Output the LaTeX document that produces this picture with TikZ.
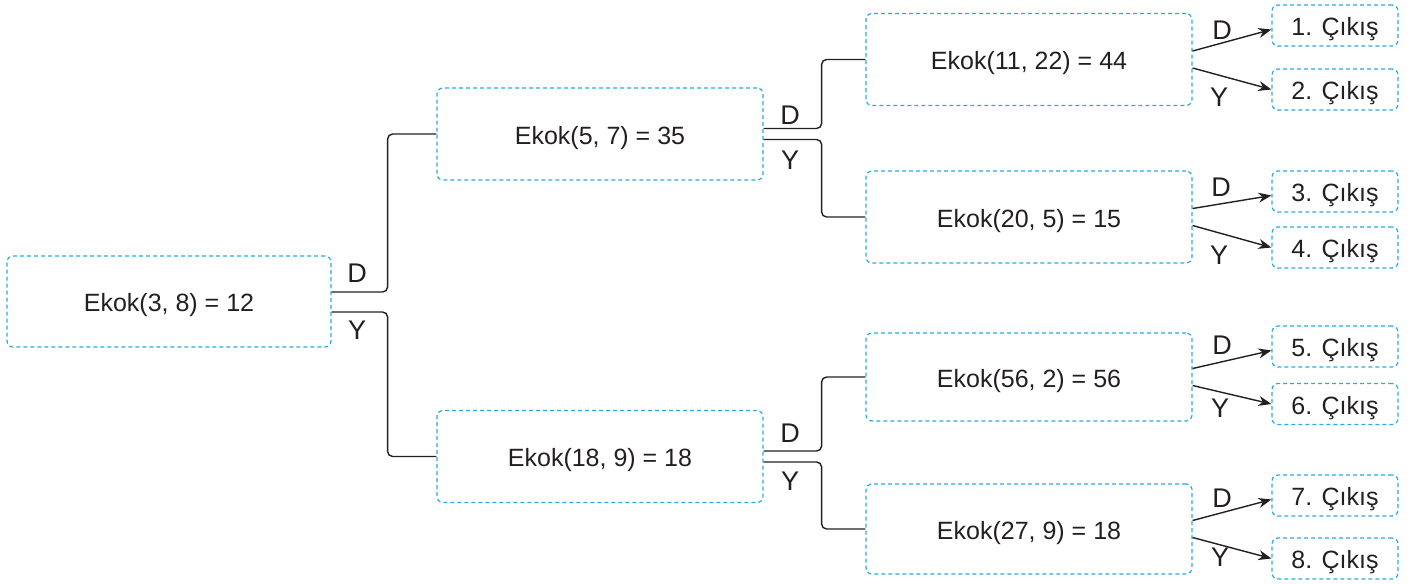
\documentclass[tikz,border=0pt]{standalone}
\usepackage{fontspec}
\setmainfont{Liberation Sans}
\usetikzlibrary{arrows.meta}
\definecolor{boxc}{HTML}{29ABE2}
\definecolor{ink}{HTML}{231F20}
\begin{document}
\begin{tikzpicture}[x=0.5pt,y=-0.5pt,
  box/.style={draw=boxc, dash pattern=on 2pt off 1.5pt, line width=0.6pt, rounded corners=3pt,
    minimum width=163pt, minimum height=46pt, inner sep=0pt, text=ink,
    text height=11.5pt, text depth=1.5pt,
    font=\fontsize{12.5}{15}\selectfont},
  outbox/.style={box, minimum width=63pt, minimum height=20.5pt},
  conn/.style={draw=ink, line width=0.7pt, rounded corners=2.5pt},
  arr/.style={draw=ink, line width=0.7pt, -{Stealth[length=6.5pt,width=5pt]}},
  lbl/.style={text=ink, font=\fontsize{13.5}{16}\selectfont, inner sep=0pt}]
\useasboundingbox (0,0) rectangle (1411,583);
% boxes
\node[box, minimum width=162pt, minimum height=45.5pt] (r) at (169,301.5) {Ekok(3, 8) = 12};
\node[box] (a) at (600,134) {Ekok(5, 7) = 35};
\node[box] (b) at (600,456.5) {Ekok(18, 9) = 18};
\node[box] (c1) at (1029,59.5) {Ekok(11, 22) = 44};
\node[box] (c2) at (1029,217) {Ekok(20, 5) = 15};
\node[box, minimum height=44pt] (c3) at (1029,377) {Ekok(56, 2) = 56};
\node[box, minimum height=45pt] (c4) at (1029,529) {Ekok(27, 9) = 18};
% outputs
\node[outbox] (o1) at (1335,25.5) {1. Çıkış};
\node[outbox] (o2) at (1335,89.5) {2. Çıkış};
\node[outbox] (o3) at (1335,191.5) {3. Çıkış};
\node[outbox] (o4) at (1335,247.5) {4. Çıkış};
\node[outbox] (o5) at (1335,346.5) {5. Çıkış};
\node[outbox] (o6) at (1335,404) {6. Çıkış};
\node[outbox] (o7) at (1335,495.5) {7. Çıkış};
\node[outbox] (o8) at (1335,558.5) {8. Çıkış};
% root connectors
\draw[conn] ([yshift=4.75pt]r.east) -- ++(28pt,0) |- (a.west);
\draw[conn] ([yshift=-5.25pt]r.east) -- ++(28pt,0) |- (b.west);
% level 2 connectors
\draw[conn] ([yshift=2.75pt]a.east) -- ++(29pt,0) |- (c1.west);
\draw[conn] ([yshift=-2.75pt]a.east) -- ++(29pt,0) |- (c2.west);
\draw[conn] ([yshift=2.75pt]b.east) -- ++(29pt,0) |- (c3.west);
\draw[conn] ([yshift=-2.75pt]b.east) -- ++(29pt,0) |- (c4.west);
% arrows
\draw[arr] ([yshift=4.25pt]c1.east) -- ([yshift=-2pt]o1.west);
\draw[arr] ([yshift=-4.25pt]c1.east) -- (o2.west);
\draw[arr] ([yshift=4.25pt]c2.east) -- ([yshift=-2pt]o3.west);
\draw[arr] ([yshift=-4.25pt]c2.east) -- (o4.west);
\draw[arr] ([yshift=4.25pt]c3.east) -- ([yshift=-2pt]o5.west);
\draw[arr] ([yshift=-4.25pt]c3.east) -- (o6.west);
\draw[arr] ([yshift=4.25pt]c4.east) -- ([yshift=-2pt]o7.west);
\draw[arr] ([yshift=-4.25pt]c4.east) -- (o8.west);
% labels
\node[lbl] (lrd) at (357,273) {D};
\node[lbl] (lry) at (357,330) {Y};
\node[lbl] (lad) at (790,115) {D};
\node[lbl] (lay) at (790,160) {Y};
\node[lbl] (lbd) at (790,433) {D};
\node[lbl] (lby) at (790,481) {Y};
\node[lbl] (l1d) at (1222,30) {D};
\node[lbl] (l1y) at (1219,97) {Y};
\node[lbl] (l2d) at (1221,187) {D};
\node[lbl] (l2y) at (1219,255) {Y};
\node[lbl] (l3d) at (1222,345) {D};
\node[lbl] (l3y) at (1220,408) {Y};
\node[lbl] (l4d) at (1222,498) {D};
\node[lbl] (l4y) at (1220,557) {Y};
\end{tikzpicture}
\end{document}
